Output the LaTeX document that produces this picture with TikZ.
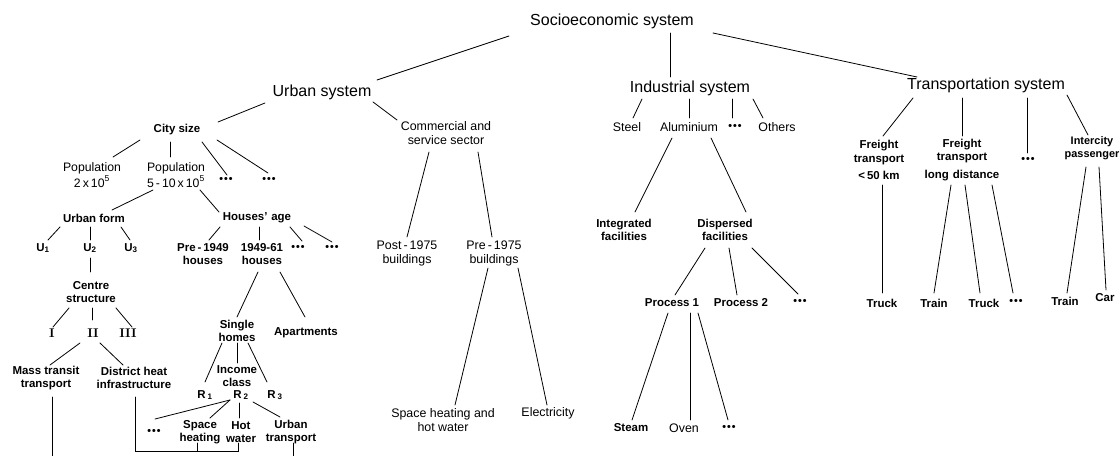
\documentclass[tikz,border=0pt]{standalone}
\usepackage{fontspec}
\setsansfont{Liberation Sans}
\renewcommand\familydefault{\sfdefault}
\usetikzlibrary{calc}

% a connector between two nodes, each end given as an offset from the node centre
\newcommand\lnk[4]{\draw[link] ($(#1)+(#2)$) -- ($(#3)+(#4)$);}
% the "and so on" marker
\newcommand\dd{\textbullet\hspace{0.8pt}\textbullet\hspace{0.8pt}\textbullet}

\begin{document}
\begin{tikzpicture}[
  x=0.75pt, y=-0.75pt,
  big/.style={font=\fontsize{12}{14}\selectfont, inner sep=0pt},
  bl/.style={font=\fontsize{8.6}{10}\selectfont\bfseries, align=center, inner sep=0pt},
  rg/.style={font=\fontsize{9.3}{10.5}\selectfont, align=center, inner sep=0pt},
  rn/.style={font=\fontsize{9.5}{10}\selectfont\rmfamily\bfseries, inner sep=0pt},
  dts/.style={font=\fontsize{8}{9}\selectfont\bfseries, inner sep=0pt},
  link/.style={line width=0.6pt, line cap=round}
]
\useasboundingbox (0,0) rectangle (1120,456);

% ---------- top levels ----------
\node[big] (socio) at (612,21) {Socioeconomic system};
\node[big] (urban) at (322,92) {Urban system};
\node[big] (ind)   at (690,88) {Industrial system};
\node[big] (trans) at (986,85) {Transportation system};

\lnk{socio}{-103,15}{urban}{55,-12}
\lnk{socio}{58,12}{ind}{-20,-11}
\lnk{socio}{101,12}{trans}{-69,-8}

% ---------- urban system ----------
\node[bl] (city) at (177,130) {City size};
\node[rg] (comm) at (446,133) {Commercial and\\service sector};
\lnk{urban}{-57,11}{city}{41,-8}
\lnk{urban}{51,10}{comm}{-49,-13}

\node[rg] (post) at (407,253) {Post\,-\,1975\\buildings};
\node[rg] (pre)  at (494,253) {Pre\,-\,1975\\buildings};
\lnk{comm}{-17,19}{post}{0,-16}
\lnk{comm}{32,19}{pre}{-2,-16}

\node[rg] (sphw) at (443,420) {Space heating and\\hot water};
\node[rg] (elec) at (548,413) {Electricity};
\lnk{pre}{-6,15}{sphw}{12,-15}
\lnk{pre}{24,15}{elec}{-1,-8}

% city size
\node[rg, font=\fontsize{9.2}{11.5}\selectfont] (popa) at (92,175) {Population\\2\,x\,10\textsuperscript{5}};
\node[rg, font=\fontsize{9.2}{11.5}\selectfont] (popb) at (176,175) {Population\\5\,-\,10\,x\,10\textsuperscript{5}};
\node[dts] (d1) at (226,180) {\dd};
\node[dts] (d2) at (269,180) {\dd};
\lnk{city}{-37,10}{popa}{21,-18}
\lnk{city}{-7,12}{popb}{-6,-18}
\lnk{city}{25,12}{d1}{1,-5}
\lnk{city}{40,10}{d2}{-1,-7}

\node[bl] (uform) at (94,218) {Urban form};
\node[bl] (hage)  at (257,218) {Houses'\,\,age};
\lnk{popb}{-23,15}{uform}{18,-8}
\lnk{popb}{24,15}{hage}{-38,-6}

% urban form
\node[bl] (u1) at (43,248) {U\textsubscript{1}};
\node[bl] (u2) at (90,248) {U\textsubscript{2}};
\node[bl] (u3) at (131,248) {U\textsubscript{3}};
\lnk{uform}{-34,9}{u1}{5,-8}
\lnk{uform}{-4,9}{u2}{0,-8}
\lnk{uform}{27,9}{u3}{-1,-8}

\node[bl] (cs) at (91,292) {Centre\\structure};
\lnk{u2}{0,10}{cs}{-1,-20}

\node[rn] (ri)   at (52,333) {I};
\node[rn] (rii)  at (93,333) {II};
\node[rn] (riii) at (128,333) {III};
\lnk{cs}{-22,16}{ri}{1,-6}
\lnk{cs}{1,16}{rii}{-1,-13}
\lnk{cs}{25,16}{riii}{4,-6}

\node[bl] (mass) at (46,378) {Mass transit\\transport};
\node[bl] (dh)   at (134,378) {District heat\\infrastructure};
\lnk{rii}{-13,10}{mass}{4,-13}
\lnk{rii}{7,10}{dh}{-11,-13}

\coordinate (massend) at (52,462);
\draw[link] ($(mass)+(6,19)$) -- (massend);

% houses' age
\node[bl] (pre49) at (203,254) {Pre\,-\,1949\\houses};
\node[bl] (h4961) at (262,254) {1949-61\\houses};
\node[dts] (d3) at (298,248) {\dd};
\node[dts] (d4) at (332,248) {\dd};
\lnk{hage}{-37,9}{pre49}{6,-14}
\lnk{hage}{2,9}{h4961}{-3,-14}
\lnk{hage}{33,9}{d3}{4,-7}
\lnk{hage}{47,8}{d4}{0,-6}

\node[bl] (single) at (237,331) {Single\\homes};
\node[bl] (apt)    at (306,333) {Apartments};
\lnk{h4961}{-4,18}{single}{0,-14}
\lnk{h4961}{18,18}{apt}{-1,-16}

\node[bl] (income) at (237,376) {Income\\class};
\node[bl] (ra) at (205,395) {R\,\textsubscript{1}};
\node[bl] (rb) at (241,395) {R\,\textsubscript{2}};
\node[bl] (rc) at (275,395) {R\,\textsubscript{3}};
\lnk{single}{-15,12}{ra}{0,-13}
\lnk{single}{0,12}{income}{0,-13}
\lnk{single}{11,12}{rc}{-8,-13}

\node[dts] (d5) at (154,432) {\dd};
\node[bl] (sh) at (200,432) {Space\\heating};
\node[bl] (hw) at (241,432) {Hot\\water};
\node[bl] (ut) at (291,432) {Urban\\transport};
\lnk{rb}{-11,5}{d5}{1,-13}
\lnk{rb}{-11,5}{sh}{10,-14}
\lnk{rb}{-2,8}{hw}{-2,-14}
\lnk{rb}{12,7}{ut}{-11,-15}

% heat supply shared by district heating, space heating and hot water
\draw[link] ($(dh)+(1,19)$) |- ($(hw)+(-3,19)$) -- ($(hw)+(-3,11)$);
\draw[link] ($(sh)+(-3,11)$) -- ($(sh)+(-3,19)$);

\coordinate (utend) at (293,462);
\draw[link] ($(ut)+(2,11)$) -- (utend);

% ---------- industrial system ----------
\node[rg] (steel)  at (627,127) {Steel};
\node[rg] (alu)    at (689,127) {Aluminium};
\node[dts] (d6)    at (735,127) {\dd};
\node[rg] (others) at (777,127) {Others};
\lnk{ind}{-48,11}{steel}{6,-9}
\lnk{ind}{-1,11}{alu}{0,-9}
\lnk{ind}{42,11}{d6}{-3,-9}
\lnk{ind}{63,11}{others}{-14,-9}

\node[bl] (integ) at (624,230) {Integrated\\facilities};
\node[bl] (disp)  at (725,230) {Dispersed\\facilities};
\lnk{alu}{-17,11}{integ}{11,-18}
\lnk{alu}{22,11}{disp}{21,-18}

\node[bl] (p1) at (672,303) {Process 1};
\node[bl] (p2) at (741,303) {Process 2};
\node[dts] (d7) at (800,302) {\dd};
\lnk{disp}{-20,18}{p1}{3,-8}
\lnk{disp}{4,18}{p2}{-4,-8}
\lnk{disp}{27,18}{d7}{-2,-8}

\node[bl] (steam) at (631,428) {Steam};
\node[rg] (oven)  at (684,428) {Oven};
\node[dts] (d8)   at (729,428) {\dd};
\lnk{p1}{-4,10}{steam}{1,-8}
\lnk{p1}{18,10}{oven}{6,-8}
\lnk{p1}{26,10}{d8}{-1,-8}

% ---------- transportation system ----------
\node[bl] (f50)   at (879,160) {Freight\\transport\\[3pt]{<}\,50 km};
\node[bl] (flong) at (962,160) {Freight\\transport\\[3pt]long\,\,distance};
\node[dts] (d9)   at (1028,160) {\dd};
\node[bl, font=\fontsize{8.2}{9.6}\selectfont\bfseries] (inter) at (1092,148) {Intercity\\passenger};
\lnk{trans}{-73,13}{f50}{4,-24}
\lnk{trans}{-24,13}{flong}{0,-24}
\lnk{trans}{41,13}{d9}{-1,-7}
\lnk{trans}{81,10}{inter}{-4,-13}

\node[bl] (truck)  at (882,303) {Truck};
\node[bl] (train)  at (934,303) {Train};
\node[bl] (truckb) at (984,303) {Truck};
\node[dts] (d10)   at (1016,302) {\dd};
\node[bl] (trainb) at (1065,301) {Train};
\node[bl] (car)    at (1105,298) {Car};
\lnk{f50}{3,25}{truck}{0,-10}
\lnk{flong}{-11,25}{train}{0,-10}
\lnk{flong}{3,25}{truckb}{-4,-10}
\lnk{flong}{30,25}{d10}{-3,-9}
\lnk{inter}{-6,19}{trainb}{2,-8}
\lnk{inter}{7,19}{car}{1,-8}
\end{tikzpicture}
\end{document}
